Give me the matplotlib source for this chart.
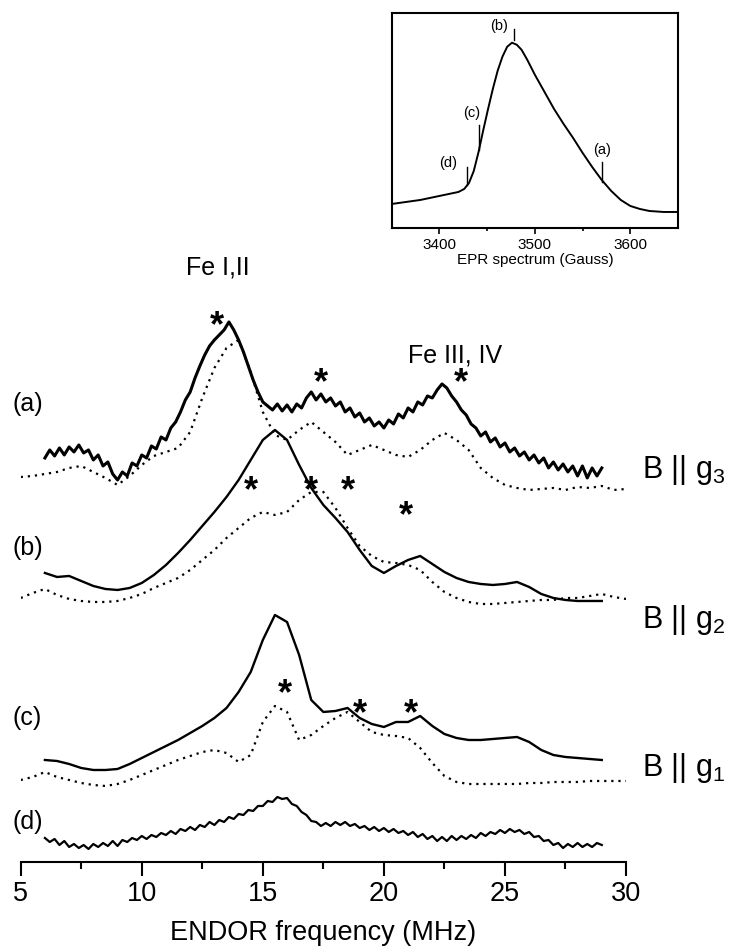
import numpy as np
import matplotlib
matplotlib.use('Agg')
import matplotlib.pyplot as plt

plt.rcParams['font.family'] = ['Liberation Sans', 'DejaVu Sans']
plt.rcParams['mathtext.default'] = 'regular'

# ---- ENDOR traces (screen-like units, larger = lower) ----
# (a) B || g3, solid, 6..29 MHz every 0.2 MHz
a_solid = [458, 450, 456, 448, 455, 447, 452, 445, 453, 450,
           460, 455, 466, 462, 474, 480, 472, 476, 463, 466,
           455, 458, 446, 449, 437, 440, 428, 422, 412, 400,
           392, 378, 366, 355, 346, 340, 335, 330, 322, 330,
           340, 352, 366, 380, 392, 402, 406, 410, 404, 411,
           405, 412, 404, 408, 398, 392, 400, 394, 402, 398,
           406, 402, 412, 408, 417, 413, 422, 418, 426, 422,
           428, 420, 424, 414, 418, 408, 412, 402, 405, 396,
           398, 390, 384, 388, 396, 402, 410, 415, 424, 428,
           436, 432, 442, 438, 447, 443, 452, 448, 456, 452,
           460, 455, 463, 458, 468, 462, 470, 464, 472, 466,
           476, 466, 478, 468, 476, 468]
# (a) dotted, 5..30 MHz every 0.5 MHz
a_dot = [477, 476, 474, 472, 468, 466, 472, 478, 485, 476,
         465, 456, 452, 448, 432, 398, 368, 348, 340, 372,
         412, 435, 440, 430, 422, 432, 442, 455, 450, 445,
         450, 455, 457, 450, 440, 433, 440, 450, 468, 478,
         485, 488, 490, 489, 488, 490, 487, 488, 486, 490, 489]

# (b) B || g2, solid 6..29 every 0.5, dotted 5..30 every 0.5
b_solid = [573, 577, 576, 581, 586, 589, 590, 588, 583, 575,
           565, 553, 540, 526, 512, 497, 480, 460, 440, 430,
           440, 465, 488, 505, 518, 532, 550, 566, 573, 566,
           560, 556, 564, 572, 578, 582, 584, 585, 584, 582,
           587, 594, 598, 600, 601, 601, 601]
b_dot = [598, 593, 589, 595, 599, 601, 602, 602, 601, 598,
         594, 588, 583, 578, 570, 560, 550, 538, 528, 518,
         512, 515, 512, 500, 492, 492, 508, 528, 546, 556,
         562, 563, 565, 570, 582, 592, 598, 602, 604, 604,
         603, 602, 601, 600, 600, 598, 598, 596, 594, 597, 599]

# (c) B || g1
c_solid = [760, 761, 764, 768, 770, 770, 769, 764, 758, 752,
           746, 740, 733, 726, 718, 708, 692, 672, 640, 615,
           622, 655, 700, 712, 711, 708, 718, 724, 727, 722,
           722, 716, 726, 734, 738, 740, 740, 739, 738, 737,
           742, 750, 755, 757, 758, 759, 760]
c_dot = [780, 777, 772, 777, 780, 783, 785, 786, 784, 780,
         775, 770, 765, 760, 756, 752, 750, 753, 762, 755,
         722, 706, 712, 740, 735, 726, 718, 712, 722, 732,
         735, 736, 738, 748, 763, 776, 782, 784, 784, 784,
         784, 784, 783, 783, 782, 782, 782, 781, 781, 781, 781]

# (d) 6..29 every 0.2
d_solid = [838, 842, 839, 845, 841, 847, 844, 848, 845, 849,
           844, 847, 843, 846, 841, 846, 840, 842, 838, 840,
           836, 839, 835, 837, 833, 835, 831, 834, 829, 831,
           827, 830, 825, 827, 822, 825, 820, 822, 817, 819,
           814, 815, 810, 811, 806, 806, 801, 802, 797, 799,
           798, 804, 806, 812, 815, 821, 822, 826, 823, 826,
           822, 825, 822, 826, 824, 828, 826, 830, 827, 831,
           828, 832, 829, 833, 831, 835, 832, 837, 834, 839,
           836, 841, 837, 841, 836, 840, 836, 839, 835, 838,
           833, 836, 832, 834, 830, 833, 829, 832, 830, 834,
           832, 837, 836, 841, 840, 845, 843, 848, 844, 847,
           843, 847, 844, 847, 843, 845]

# stars (MHz, level)
stars = [(13.1, 318), (17.4, 375), (23.2, 375),
         (14.5, 483), (17.0, 483), (18.5, 483), (20.9, 508),
         (15.9, 686), (19.0, 706), (21.1, 706)]

# ---- EPR inset spectrum ----
epr_field = [3350, 3365, 3380, 3395, 3410, 3420, 3426, 3431, 3436, 3441,
             3446, 3451, 3456, 3461, 3466, 3471, 3476, 3481, 3486, 3492,
             3500, 3510, 3520, 3530, 3540, 3550, 3560, 3570, 3580, 3590,
             3600, 3610, 3620, 3635, 3650]
epr_signal = [24, 26, 28, 31, 34, 36, 39, 45, 57, 76,
              98, 119, 139, 157, 171, 181, 185, 183, 178, 168,
              153, 136, 119, 104, 90, 75, 61, 48, 37, 28,
              22, 19, 17, 16, 16]
epr_marks = ['(a)', '(b)', '(c)', '(d)']
epr_mark_field = [3570, 3478, 3441, 3429]
epr_mark_text_field = [3570, 3462, 3434, 3409]

fig = plt.figure(figsize=(7.33, 9.52), dpi=100)
ax = fig.add_axes([0.02824, 0.09454, 0.8258, 0.6429])

def grid(start, stop, vals):
    return np.linspace(start, stop, len(vals))

dots = (0, (1, 2.2))
ax.plot(grid(5, 30, a_dot), a_dot, color='k', lw=1.6, ls=dots)
ax.plot(grid(6, 29, a_solid), a_solid, color='k', lw=2.2)
ax.plot(grid(5, 30, b_dot), b_dot, color='k', lw=1.6, ls=dots)
ax.plot(grid(6, 29, b_solid), b_solid, color='k', lw=1.7)
ax.plot(grid(5, 30, c_dot), c_dot, color='k', lw=1.6, ls=dots)
ax.plot(grid(6, 29, c_solid), c_solid, color='k', lw=1.7)
ax.plot(grid(6, 29, d_solid), d_solid, color='k', lw=1.6)

for sx, sy in stars:
    ax.text(sx, sy + 9, '*', fontsize=26, ha='center', va='center', fontweight='bold')

ax.set_xlim(5, 30)
ax.set_ylim(862, 250)
for s in ['left', 'right', 'top']:
    ax.spines[s].set_visible(False)
ax.spines['bottom'].set_linewidth(1.5)
ax.set_yticks([])
ax.set_xticks([5, 10, 15, 20, 25, 30])
ax.set_xticks([7.5, 12.5, 17.5, 22.5, 27.5], minor=True)
ax.tick_params(axis='x', which='major', length=10, width=1.5, labelsize=19.5, pad=4)
ax.tick_params(axis='x', which='minor', length=5, width=1.5)
ax.set_xlabel('ENDOR frequency (MHz)', fontsize=19.5, labelpad=9)

# trace labels
for lab, ly in [('(a)', 404), ('(b)', 548), ('(c)', 718), ('(d)', 822)]:
    ax.text(4.68, ly, lab, fontsize=18, ha='left', va='center')
for lab, ly in [(r'B || g$_3$', 470), (r'B || g$_2$', 620), (r'B || g$_1$', 768)]:
    ax.text(30.67, ly, lab, fontsize=22, ha='left', va='center')
ax.text(13.16, 268, 'Fe I,II', fontsize=18, ha='center', va='center')
ax.text(22.95, 356, 'Fe III, IV', fontsize=18, ha='center', va='center')

# inset EPR spectrum
ins = fig.add_axes([0.5344, 0.7605, 0.3906, 0.2262])
ins.plot(epr_field, epr_signal, color='k', lw=1.4)
ins.set_xlim(3350, 3650)
ins.set_ylim(0, 215)
ins.set_yticks([])
ins.set_xticks([3400, 3500, 3600])
ins.set_xticks([3450, 3550], minor=True)
ins.tick_params(axis='x', which='major', length=4, width=1.2, labelsize=11, pad=3)
ins.tick_params(axis='x', which='minor', length=2.5, width=1.2)
for s in ins.spines.values():
    s.set_linewidth(1.5)
ins.set_xlabel('EPR spectrum (Gauss)', fontsize=11, labelpad=1)

mark_y = {'(a)': (66, 46, 78), '(b)': (199, 188, 202), '(c)': (103, 78, 115), '(d)': (61, 43, 65)}
for lab, fx, tx in zip(epr_marks, epr_mark_field, epr_mark_text_field):
    y0, y1, ty = mark_y[lab]
    ins.plot([fx, fx], [y0, y1], color='k', lw=1.0)
    ins.text(tx, ty, lab, fontsize=10.5, ha='center', va='center')

fig.savefig('out.png', dpi=100)
